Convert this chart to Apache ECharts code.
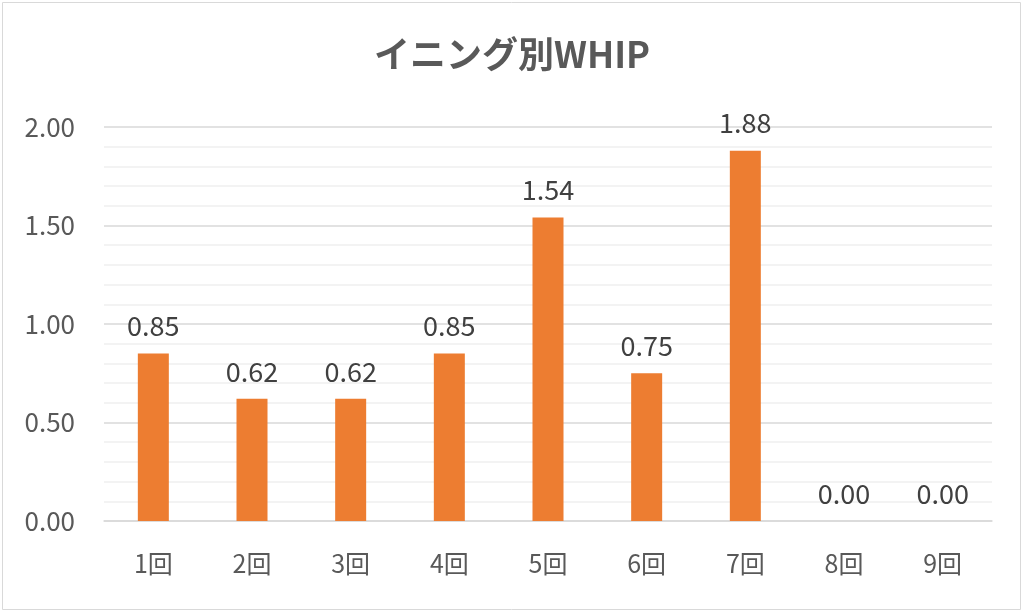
<!DOCTYPE html>
<html>
<head>
<meta charset="utf-8">
<script src="https://cdn.jsdelivr.net/npm/echarts@6/dist/echarts.min.js"></script>
<style>
  html, body { margin: 0; padding: 0; background: #fff; }
  #chart { width: 1024px; height: 613px; }
</style>
</head>
<body>
<div id="chart"></div>
<script>
// イニング別のデータ
const innings = ['1回', '2回', '3回', '4回', '5回', '6回', '7回', '8回', '9回'];
const whip = [0.85, 0.62, 0.62, 0.85, 1.54, 0.75, 1.88, 0.00, 0.00];
const yTicks = [0, 0.5, 1.0, 1.5, 2.0];

const font = '"Noto Sans CJK JP", "Noto Sans", sans-serif';
const chart = echarts.init(document.getElementById('chart'));

chart.setOption({
  animation: false,
  textStyle: { fontFamily: font },
  graphic: [{
    type: 'rect',
    shape: { x: 2.5, y: 2.5, width: 1018, height: 607 },
    style: { fill: 'none', stroke: '#d9d9d9', lineWidth: 1 }
  }],
  title: {
    text: 'イニング別WHIP',
    left: 'center',
    top: 31,
    textStyle: { fontFamily: font, fontSize: 36, fontWeight: 'bold', color: '#595959' }
  },
  grid: { left: 104, right: 32, top: 127, bottom: 92 },
  xAxis: {
    type: 'category',
    data: innings,
    axisLine: { lineStyle: { color: '#d9d9d9', width: 1.5 } },
    axisTick: { show: false },
    axisLabel: { margin: 30, fontSize: 25, color: '#595959', fontFamily: font }
  },
  yAxis: {
    type: 'value',
    min: yTicks[0],
    max: yTicks[yTicks.length - 1],
    interval: 0.5,
    axisLine: { show: false },
    axisTick: { show: false },
    axisLabel: {
      margin: 29, fontSize: 26, color: '#595959', fontFamily: font,
      formatter: v => v.toFixed(2)
    },
    splitLine: { lineStyle: { color: '#d9d9d9', width: 1.5 } },
    minorTick: { show: false, splitNumber: 5 },
    minorSplitLine: { show: true, lineStyle: { color: '#f0f0f0', width: 1.5 } }
  },
  series: [{
    type: 'bar',
    data: whip,
    barWidth: 31,
    itemStyle: { color: '#ed7d31' },
    label: {
      show: true,
      position: 'top',
      distance: 14,
      fontSize: 27,
      color: '#404040',
      fontFamily: font,
      formatter: p => p.value.toFixed(2)
    }
  }]
});
</script>
</body>
</html>
